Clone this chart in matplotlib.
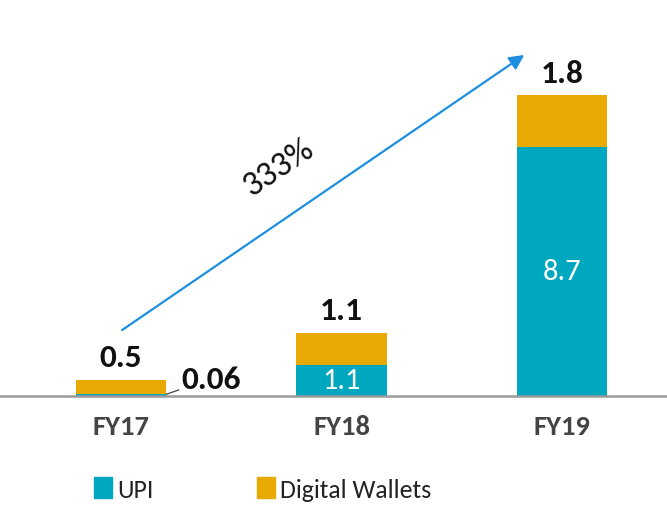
import matplotlib
matplotlib.use("Agg")
import matplotlib.pyplot as plt
from matplotlib.patches import Patch

categories = ["FY17", "FY18", "FY19"]
upi = [0.06, 1.1, 8.7]
wallets = [0.5, 1.1, 1.8]
upi_labels = ["0.06", "1.1", "8.7"]
wallet_labels = ["0.5", "1.1", "1.8"]
growth_label = "333%"

TEAL = "#00A8BF"
ORANGE = "#E8A902"
plt.rcParams['font.family'] = ['Carlito', 'DejaVu Sans']

fig = plt.figure(figsize=(6.67, 5.06), dpi=100)
ax = fig.add_axes([0, 109/506, 1, 397/506])
x = list(range(len(categories)))
w = 0.41
ax.bar(x, upi, width=w, color=TEAL, zorder=2)
ax.bar(x, wallets, width=w, bottom=upi, color=ORANGE, zorder=2)
ax.set_xlim(-0.549, 2.476)
ax.set_ylim(0, 13.87)

for i in x:
    total = upi[i] + wallets[i]
    ax.text(i, total + 0.3, wallet_labels[i], ha='center', va='bottom',
            fontsize=24, fontweight='bold', color='#111111')
    if upi[i] > 0.5:
        ax.text(i, upi[i] / 2, upi_labels[i], ha='center', va='center',
                fontsize=22, color='white')
    else:
        ax.annotate(upi_labels[i], xy=(i + w/2, upi[i]), xytext=(i + w/2 + 0.07, upi[i] + 0.55),
                    ha='left', va='center', fontsize=24, fontweight='bold', color='#111111',
                    arrowprops=dict(arrowstyle='-', color='#444444', lw=0.9,
                                    shrinkA=0, shrinkB=0))

for s in ['top', 'right', 'left']:
    ax.spines[s].set_visible(False)
ax.spines['bottom'].set_color('#9a9a9a')
ax.spines['bottom'].set_linewidth(1.8)
ax.set_yticks([])
ax.set_xticks(x)
ax.set_xticklabels(categories, fontsize=20.5, fontweight='bold', color='#444444')
ax.tick_params(axis='x', length=0, pad=13)

ax.annotate('', xy=(0.786, 0.859), xytext=(0.183, 0.166), xycoords='axes fraction',
            textcoords='axes fraction',
            arrowprops=dict(arrowstyle='-|>', color='#1E8FE0', lw=1.6, mutation_scale=22,
                            shrinkA=0, shrinkB=0))
ax.text(0.418, 0.578, growth_label, transform=ax.transAxes, rotation=34,
        ha='center', va='center', fontsize=25, color='#111111')

handles = [Patch(color=TEAL, label='UPI'), Patch(color=ORANGE, label='Digital Wallets')]
fig.legend(handles=handles, loc='center left', bbox_to_anchor=(0.107, 0.032), ncol=2,
           frameon=False, fontsize=18.5, handlelength=0.7, handleheight=0.9,
           handletextpad=0.2, columnspacing=4.0, labelcolor='#222222')

fig.savefig('out.png', dpi=100)
